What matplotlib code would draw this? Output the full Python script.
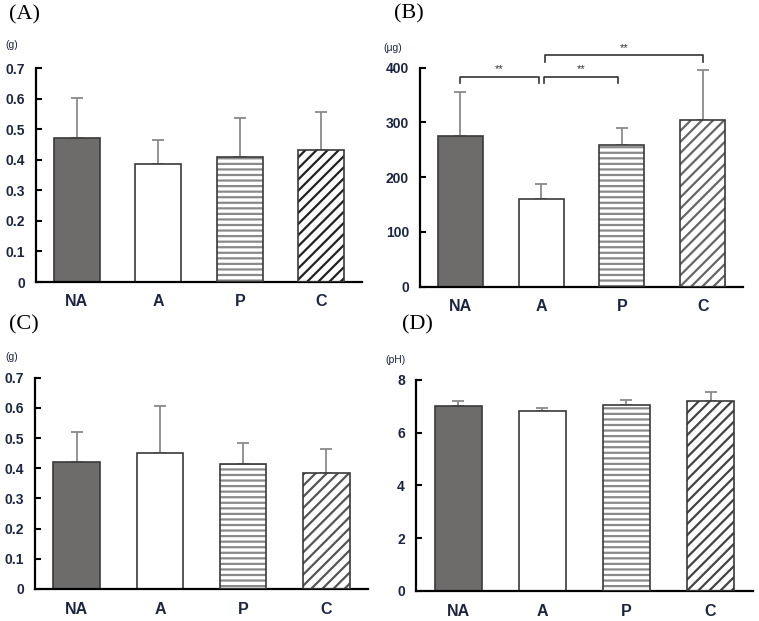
import matplotlib.pyplot as plt
import numpy as np

plt.rcParams['hatch.linewidth'] = 1.6
plt.rcParams['font.family'] = ['Liberation Sans', 'DejaVu Sans']

groups = ["NA", "A", "P", "C"]

# panel values (mean, upper SD)
a_mean = [0.473, 0.387, 0.408, 0.434]
a_err = [0.129, 0.077, 0.128, 0.124]
b_mean = [276, 160, 259, 305]
b_err = [79, 27, 31, 91]
c_mean = [0.420, 0.451, 0.413, 0.383]
c_err = [0.101, 0.154, 0.072, 0.080]
d_mean = [6.99, 6.83, 7.04, 7.18]
d_err = [0.19, 0.11, 0.18, 0.34]

fig = plt.figure(figsize=(7.59, 6.21), dpi=100)

W, H = 759, 621


def add_ax(left, right, bottom, top):
    return fig.add_axes([left / W, 1 - bottom / H, (right - left) / W, (bottom - top) / H])


tick_col = "#1c2540"


def draw(ax, mean, err, ymax, step, labels, diag_col):
    x = np.arange(len(groups))
    w = 0.56
    # NA solid, A white
    ax.bar(x[0], mean[0], w, color="#6e6b6b", edgecolor="#3a3a3a", linewidth=1.2, zorder=2)
    ax.bar(x[1], mean[1], w, color="white", edgecolor="#3a3a3a", linewidth=1.2, zorder=2)
    # P horizontal stripes
    ax.bar(x[2], mean[2], w, color="white", edgecolor="#8a8a8a", hatch="---", linewidth=0, zorder=2)
    ax.bar(x[2], mean[2], w, color="none", edgecolor="#3a3a3a", linewidth=1.2, zorder=3)
    # C diagonal stripes
    ax.bar(x[3], mean[3], w, color="white", edgecolor=diag_col, hatch="///", linewidth=0, zorder=2)
    ax.bar(x[3], mean[3], w, color="none", edgecolor="#3a3a3a", linewidth=1.2, zorder=3)
    ax.errorbar(x, mean, yerr=[[0] * 4, err], fmt="none", ecolor="#8a8a8a",
                elinewidth=1.3, capsize=4, capthick=1.3, zorder=1)
    ax.set_xlim(-0.5, 3.5)
    ax.set_ylim(0, ymax)
    ax.set_yticks(np.arange(0, ymax + step / 2, step))
    ax.set_yticklabels(labels, fontweight="bold")
    ax.set_xticks(x)
    ax.set_xticklabels(groups, fontweight="bold", fontsize=11.5)
    for s in ["top", "right"]:
        ax.spines[s].set_visible(False)
    for s in ["left", "bottom"]:
        ax.spines[s].set_linewidth(1.6)
        ax.spines[s].set_color("black")
    ax.tick_params(axis="y", direction="in", length=4, width=1.5, pad=8,
                   labelsize=10, labelcolor=tick_col)
    ax.tick_params(axis="x", length=0, pad=9, labelcolor=tick_col)
    ax.patch.set_visible(False)


g_labels = ["0", "0.1", "0.2", "0.3", "0.4", "0.5", "0.6", "0.7"]

axA = add_ax(36, 362, 282, 68.3)
draw(axA, a_mean, a_err, 0.7, 0.1, g_labels, "#222222")

axB = add_ax(420, 743, 286.7, 67.7)
draw(axB, b_mean, b_err, 400, 100, ["0", "100", "200", "300", "400"], "#666666")

axC = add_ax(35, 368, 589, 377.7)
draw(axC, c_mean, c_err, 0.7, 0.1, g_labels, "#555555")

axD = add_ax(416, 752.7, 591, 379.7)
draw(axD, d_mean, d_err, 8, 2, ["0", "2", "4", "6", "8"], "#444444")

# significance brackets in panel B
brackets = [(0.0, 0.97, 383.6, 372.6), (1.03, 1.95, 383.6, 372.6), (1.05, 3.0, 423, 411)]
for x0, x1, yb, yt in brackets:
    axB.plot([x0, x0, x1, x1], [yt, yb, yb, yt], color="#333333", lw=1.2, clip_on=False)
    axB.text((x0 + x1) / 2, yb + 4, "**", ha="center", va="bottom", fontsize=8,
             color="#333333", clip_on=False)

# panel labels and units
serif = "Liberation Serif"
for lbl, px, py in [("(A)", 9, 15), ("(B)", 394, 14), ("(C)", 9, 325), ("(D)", 402, 325)]:
    fig.text(px / W, 1 - py / H, lbl, family=serif, fontsize=16, va="center", ha="left")
for u, px, py in [("(g)", 5, 45), ("(\u03bcg)", 383, 48), ("(g)", 5, 357), ("(pH)", 385, 360)]:
    fig.text(px / W, 1 - py / H, u, fontsize=7.5, va="center", ha="left", color="#1c2540")

fig.savefig("out.png", dpi=100)
